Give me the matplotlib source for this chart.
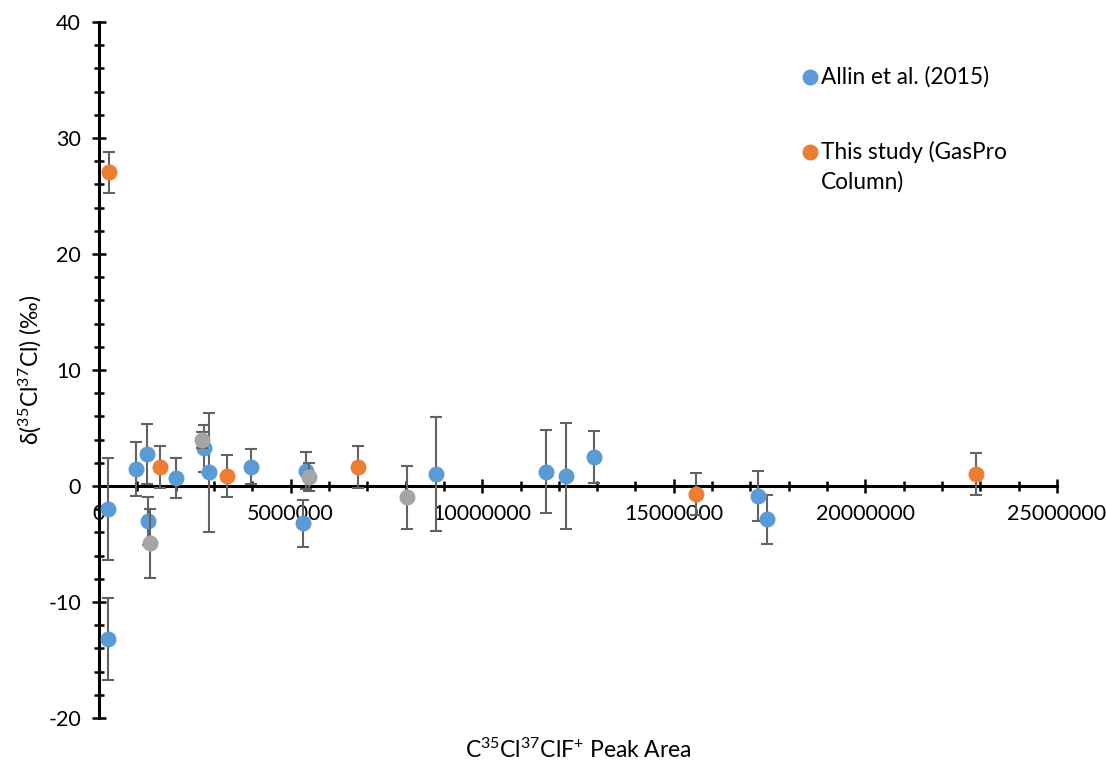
import matplotlib
matplotlib.use("Agg")
import matplotlib.pyplot as plt
from matplotlib.ticker import MultipleLocator

plt.rcParams['font.family'] = ['Lato', 'DejaVu Sans']
plt.rcParams['mathtext.fontset'] = 'custom'
plt.rcParams['mathtext.rm'] = 'Lato'
plt.rcParams['mathtext.it'] = 'Lato'
plt.rcParams['axes.unicode_minus'] = False

# Allin et al. (2015)
allin_x = [0.227e6, 0.243e6, 0.96e6, 1.264e6, 1.29e6, 2.01e6, 2.73e6, 2.86e6, 3.97e6,
           5.33e6, 5.41e6, 8.80e6, 11.67e6, 12.19e6, 12.92e6, 17.20e6, 17.42e6]
allin_y = [-13.19, -1.98, 1.46, 2.76, -3.02, 0.66, 3.25, 1.18, 1.67,
           -3.22, 1.32, 1.03, 1.23, 0.86, 2.47, -0.86, -2.87]
allin_err = [3.5, 4.4, 2.33, 2.58, 2.04, 1.73, 2.03, 5.15, 1.5,
             2.05, 1.6, 4.9, 3.56, 4.6, 2.24, 2.14, 2.1]

# This study (GasPro column)
study_x = [0.253e6, 1.595e6, 3.34e6, 6.76e6, 15.58e6, 22.89e6]
study_y = [27.04, 1.61, 0.86, 1.61, -0.69, 1.03]
study_err = [1.75, 1.8, 1.79, 1.8, 1.84, 1.8]

# Additional measurements
other_x = [1.334e6, 2.69e6, 5.47e6, 8.05e6]
other_y = [-4.94, 3.97, 0.8, -0.98]
other_err = [3.0, 0.7, 1.2, 2.73]

BLUE = '#5B9BD5'
ORANGE = '#ED7D31'
GRAY = '#A5A5A5'
ERR = '#626262'
FS = 16.3
MS = 11.5

fig = plt.figure(figsize=(11.06, 7.64), dpi=100)
ax = fig.add_axes([99 / 1106, 46 / 764, 958 / 1106, 696 / 764])

series = [(allin_x, allin_y, allin_err, BLUE),
          (study_x, study_y, study_err, ORANGE),
          (other_x, other_y, other_err, GRAY)]
z = 3
for xs, ys, es, col in series:
    ax.errorbar(xs, ys, yerr=es, fmt='none', ecolor=ERR, elinewidth=1.5,
                capsize=4.5, capthick=1.5, zorder=z)
    ax.plot(xs, ys, 'o', color=col, markersize=MS, markeredgewidth=0, zorder=z + 0.5)
    z += 1

ax.set_xlim(0, 25e6)
ax.set_ylim(-20, 40)

for s in ['top', 'right']:
    ax.spines[s].set_visible(False)
ax.spines['bottom'].set_position(('data', 0))
ax.spines['left'].set_position(('data', 0))
ax.spines['bottom'].set_linewidth(2.2)
ax.spines['left'].set_linewidth(2.2)

ax.xaxis.set_major_locator(MultipleLocator(5e6))
ax.xaxis.set_minor_locator(MultipleLocator(1e6))
ax.yaxis.set_major_locator(MultipleLocator(10))
ax.yaxis.set_minor_locator(MultipleLocator(2))
ax.ticklabel_format(style='plain', axis='x', useOffset=False)

ax.tick_params(axis='both', which='major', direction='inout', length=10, width=1.8,
               labelsize=15.5, color='black')
ax.tick_params(axis='both', which='minor', direction='inout', length=7, width=1.8,
               color='black')
ax.tick_params(axis='x', which='major', pad=8)
ax.tick_params(axis='y', which='major', pad=8)

ax.set_ylabel('δ($^{35}$Cl$^{37}$Cl) (‰)', fontsize=16.5)
ax.yaxis.set_label_coords(-0.057, 0.5)
ax.set_xlabel('C$^{35}$Cl$^{37}$ClF$^{+}$ Peak Area', fontsize=16.5)
ax.xaxis.set_label_coords(0.5, -0.029)

# legend
ax.plot([0.742], [0.921], 'o', color=BLUE, markersize=MS, markeredgewidth=0,
        transform=ax.transAxes, clip_on=False)
ax.plot([0.742], [0.813], 'o', color=ORANGE, markersize=MS, markeredgewidth=0,
        transform=ax.transAxes, clip_on=False)
ax.text(0.754, 0.921, 'Allin et al. (2015)', fontsize=FS, va='center', transform=ax.transAxes)
ax.text(0.754, 0.813, 'This study (GasPro', fontsize=FS, va='center', transform=ax.transAxes)
ax.text(0.754, 0.770, 'Column)', fontsize=FS, va='center', transform=ax.transAxes)

fig.savefig('out.png', dpi=100)
